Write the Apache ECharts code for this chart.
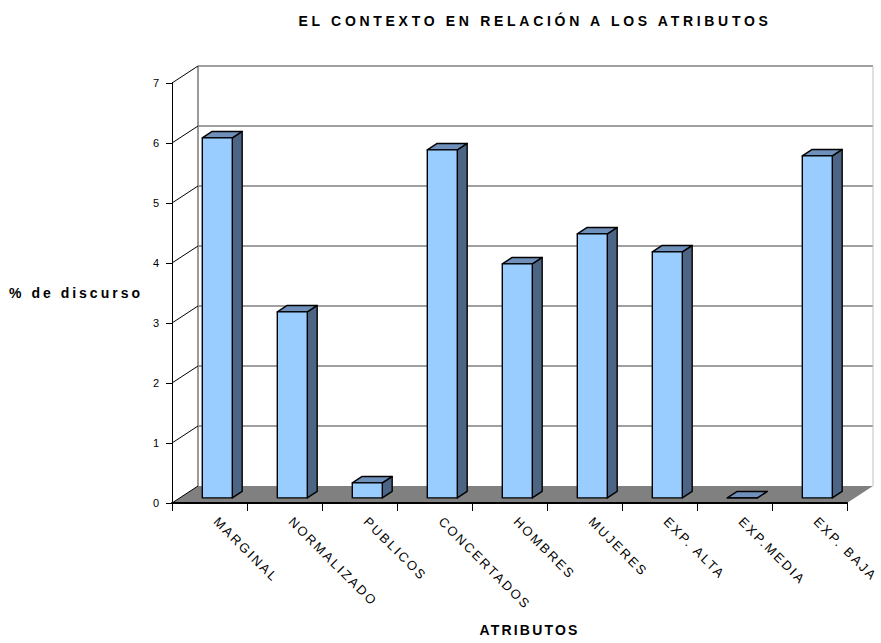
<!DOCTYPE html>
<html>
<head>
<meta charset="utf-8">
<script src="https://cdn.jsdelivr.net/npm/echarts@6/dist/echarts.min.js"></script>
<style>
  html, body { margin: 0; padding: 0; background: #ffffff; }
  #chart { width: 881px; height: 643px; }
</style>
</head>
<body>
<div id="chart"></div>
<script>
// Chart data
const categories = ['MARGINAL', 'NORMALIZADO', 'PUBLICOS', 'CONCERTADOS', 'HOMBRES', 'MUJERES', 'EXP. ALTA', 'EXP.MEDIA', 'EXP. BAJA'];
const values = [6.0, 3.1, 0.25, 5.8, 3.9, 4.4, 4.1, 0, 5.7];
const yTicks = [0, 1, 2, 3, 4, 5, 6, 7];
const titleText = 'EL CONTEXTO EN RELACIÓN A LOS ATRIBUTOS';
const yAxisTitle = '% de discurso';
const xAxisTitle = 'ATRIBUTOS';

// 3D look: depth of the walls in pixels and where the bars sit in that depth
const WALL_DX = 26, WALL_DY = -17;
const BAR_F0 = 0.3, BAR_F1 = 0.68, BAR_W = 0.4;
const FONT = 'Arial, Liberation Sans, sans-serif';

const chart = echarts.init(document.getElementById('chart'), null, { renderer: 'svg' });

function wallsItem(params, api) {
  const cs = params.coordSys;
  const xl = cs.x, xr = cs.x + cs.width;
  const children = [];
  const y0 = api.coord([0, yTicks[0]])[1];
  const yTop = api.coord([0, yTicks[yTicks.length - 1]])[1];
  // floor
  children.push({
    type: 'polygon',
    shape: { points: [[xl, y0], [xr, y0], [xr + WALL_DX, y0 + WALL_DY], [xl + WALL_DX, y0 + WALL_DY]] },
    style: { fill: '#808080', stroke: null }
  });
  // back wall grid lines
  yTicks.forEach(function (t) {
    if (t === yTicks[0]) return;
    const y = api.coord([0, t])[1] + WALL_DY;
    children.push({
      type: 'line',
      shape: { x1: xl + WALL_DX, y1: y, x2: xr + WALL_DX, y2: y },
      style: { stroke: '#808080', lineWidth: 1.6 }
    });
  });
  // back wall side edges
  children.push({
    type: 'line',
    shape: { x1: xl + WALL_DX, y1: y0 + WALL_DY, x2: xl + WALL_DX, y2: yTop + WALL_DY },
    style: { stroke: '#808080', lineWidth: 1.6 }
  });
  children.push({
    type: 'line',
    shape: { x1: xr + WALL_DX, y1: y0 + WALL_DY, x2: xr + WALL_DX, y2: yTop + WALL_DY },
    style: { stroke: '#c0c0c0', lineWidth: 1 }
  });
  // left wall diagonals
  yTicks.forEach(function (t) {
    const y = api.coord([0, t])[1];
    children.push({
      type: 'line',
      shape: { x1: xl, y1: y, x2: xl + WALL_DX, y2: y + WALL_DY },
      style: { stroke: '#000000', lineWidth: 1 }
    });
  });
  return { type: 'group', children: children };
}

function barItem(params, api) {
  const cat = api.value(0), v = api.value(1);
  const base = api.coord([cat, 0]);
  const top = api.coord([cat, v]);
  const band = api.size([1, 0])[0];
  const w = band * BAR_W;
  const fx = base[0] - w / 2 + WALL_DX * BAR_F0;
  const fy0 = base[1] + WALL_DY * BAR_F0;
  const fy1 = top[1] + WALL_DY * BAR_F0;
  const ddx = WALL_DX * (BAR_F1 - BAR_F0), ddy = WALL_DY * (BAR_F1 - BAR_F0);
  const edge = { stroke: '#000000', lineWidth: 1.4, lineJoin: 'round' };
  return {
    type: 'group',
    children: [
      { type: 'polygon', shape: { points: [[fx + w, fy1], [fx + w + ddx, fy1 + ddy], [fx + w + ddx, fy0 + ddy], [fx + w, fy0]] },
        style: Object.assign({ fill: '#4d6584' }, edge) },
      { type: 'polygon', shape: { points: [[fx, fy1], [fx + ddx, fy1 + ddy], [fx + w + ddx, fy1 + ddy], [fx + w, fy1]] },
        style: Object.assign({ fill: '#6f90bb' }, edge) },
      { type: 'polygon', shape: { points: [[fx, fy1], [fx + w, fy1], [fx + w, fy0], [fx, fy0]] },
        style: Object.assign({ fill: '#99ccff' }, edge) }
    ]
  };
}

const option = {
  animation: false,
  backgroundColor: '#ffffff',
  title: {
    text: titleText,
    left: 530,
    top: 9,
    textAlign: 'center',
    textStyle: { fontFamily: FONT, fontWeight: 'bold', fontSize: 14, color: '#000000' }
  },
  grid: { left: 172, right: 34, top: 83, bottom: 140, containLabel: false },
  xAxis: {
    type: 'category',
    data: categories,
    z: 5,
    name: xAxisTitle,
    nameLocation: 'middle',
    nameGap: 120,
    nameTextStyle: { fontFamily: FONT, fontWeight: 'bold', fontSize: 14, color: '#000000', padding: [0, 0, 0, 40] },
    axisLine: { show: true, lineStyle: { color: '#000000', width: 2 } },
    axisTick: { show: true, length: 8, lineStyle: { color: '#000000', width: 1 } },
    axisLabel: { rotate: -45, margin: 10, padding: [0, 0, 0, 9], interval: 0, fontFamily: FONT, fontSize: 13, color: '#000000' },
    splitLine: { show: false }
  },
  yAxis: {
    type: 'value',
    min: yTicks[0],
    max: yTicks[yTicks.length - 1],
    interval: 1,
    z: 5,
    name: yAxisTitle,
    nameLocation: 'middle',
    nameRotate: 0,
    nameGap: 29,
    nameTextStyle: { fontFamily: FONT, fontWeight: 'bold', fontSize: 14, color: '#000000' },
    axisLine: { show: true, lineStyle: { color: '#000000', width: 1 } },
    axisTick: { show: true, length: 6, lineStyle: { color: '#000000', width: 1 } },
    axisLabel: { margin: 13, fontFamily: FONT, fontSize: 11, color: '#000000' },
    splitLine: { show: false }
  },
  series: [
    { type: 'custom', z: 1, silent: true, renderItem: wallsItem, data: [[0, 0]], clip: false },
    { type: 'custom', z: 2, renderItem: barItem, data: values.map(function (v, i) { return [i, v]; }), clip: false }
  ]
};
chart.setOption(option);

// widen the character spacing of the titles and category labels
const spacing = {};
spacing[titleText] = '3.7px';
spacing[yAxisTitle] = '3px';
spacing[xAxisTitle] = '2.2px';
categories.forEach(function (c) { spacing[c] = '2.2px'; });
function applySpacing() {
  document.querySelectorAll('#chart text').forEach(function (t) {
    const s = spacing[t.textContent];
    if (s) t.style.letterSpacing = s;
  });
}
chart.on('finished', applySpacing);
applySpacing();
</script>
</body>
</html>
